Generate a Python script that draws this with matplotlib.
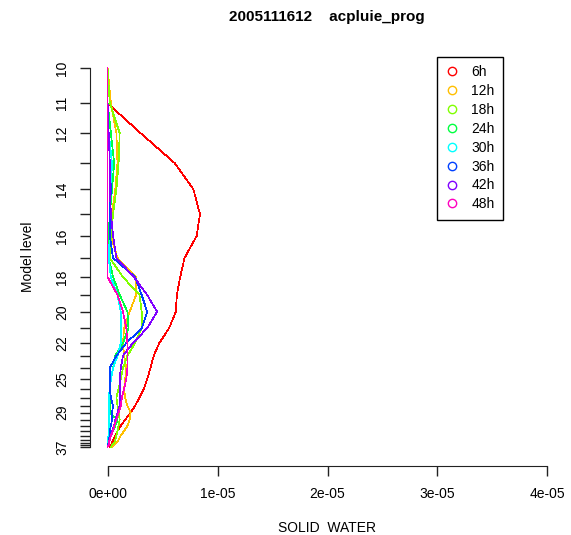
import numpy as np
import matplotlib
matplotlib.use('Agg')
import matplotlib.pyplot as plt
from matplotlib.lines import Line2D

plt.rcParams['font.family'] = ['Liberation Sans', 'DejaVu Sans']
plt.rcParams['font.size'] = 10

# model levels and their (approx.) pressure in hPa, used as the vertical scale
levels = list(range(10, 38))
level_p = [190, 265, 329, 393, 449, 502, 549, 596, 637, 675, 711, 746, 778, 805,
           831, 855, 876, 895, 912, 927, 942, 955, 966, 976, 985, 991, 997, 1000]
labelled = [10, 11, 12, 14, 16, 18, 20, 22, 25, 29, 37]

scale = 1e-6
series = ['6h', '12h', '18h', '24h', '30h', '36h', '42h', '48h']
colors = ['#FF0000', '#FFBF00', '#80FF00', '#00FF40', '#00FFFF', '#0040FF', '#8000FF', '#FF00BF']

w6 = [0, 0, 3.0, 6.1, 7.8, 8.4, 8.1, 7.0, 6.6, 6.3, 6.2, 5.6, 4.7, 4.2,
      3.9, 3.6, 3.3, 2.9, 2.5, 2.1, 1.6, 1.2, 0.9, 0.7, 0.5, 0.4, 0.3, 0.2]
w12 = [0, 0.3, 0.8, 0.9, 0.7, 0.4, 0.3, 0.9, 2.6, 2.6, 2.0, 1.5, 1.4, 1.5,
       1.7, 1.6, 1.5, 1.6, 1.8, 2.1, 2.0, 1.8, 1.5, 1.2, 1.0, 0.8, 0.6, 0.4]
w18 = [0, 0.2, 1.1, 1.0, 0.8, 0.5, 0.3, 0.2, 1.4, 2.9, 3.1, 3.1, 2.5, 1.8,
       1.4, 1.2, 1.0, 0.8, 0.9, 1.0, 1.1, 1.0, 0.9, 0.8, 0.7, 0.6, 0.4, 0.3]
w24 = [0, 0, 0.3, 0.6, 0.4, 0.2, 0.1, 0.1, 0.5, 1.1, 1.8, 1.9, 1.4, 0.7,
       0.5, 0.3, 0.2, 0.2, 0.2, 0.2, 0.9, 0.7, 0.5, 0.3, 0.2, 0.1, 0.1, 0]
w30 = [0, 0, 0.1, 0.4, 0.3, 0.2, 0.2, 0.1, 0.3, 0.9, 1.2, 1.2, 1.2, 0.9,
       0.5, 0.3, 0.2, 0.1, 0.1, 0.1, 0.1, 0.1, 0.1, 0.1, 0, 0, 0, 0]
w36 = [0, 0, 0.1, 0.2, 0.3, 0.2, 0.2, 0.5, 2.5, 3.1, 3.6, 3.1, 1.7, 0.8,
       0.2, 0.2, 0.2, 0.3, 0.5, 0.4, 0.4, 0.3, 0.2, 0.2, 0.1, 0.1, 0, 0]
w42 = [0, 0, 0.1, 0.2, 0.2, 0.3, 0.5, 0.8, 2.4, 3.6, 4.5, 3.6, 2.3, 1.4,
       1.2, 1.1, 1.1, 1.1, 1.1, 0.9, 0.7, 0.6, 0.4, 0.3, 0.2, 0.1, 0.1, 0]
w48 = [0, 0, 0, 0, 0, 0, 0, 0, 0, 0.9, 1.4, 1.7, 1.8, 1.8,
       1.8, 1.7, 1.5, 1.3, 1.2, 1.0, 0.8, 0.6, 0.5, 0.3, 0.2, 0.1, 0.1, 0]
values = [w6, w12, w18, w24, w30, w36, w42, w48]

xticks = [0, 1e-5, 2e-5, 3e-5, 4e-5]
xticklabels = ['0e+00', '1e-05', '2e-05', '3e-05', '4e-05']

fig = plt.figure(figsize=(5.71, 5.35), dpi=100)
ax = fig.add_axes([90 / 571, 1 - 462 / 535, 475 / 571, 409 / 535])

for vals, c in zip(values, colors):
    ax.plot(np.array(vals) * scale, level_p, color=c, lw=0.5, antialiased=False)

xr = xticks[-1] - xticks[0]
ax.set_xlim(xticks[0] - 0.04 * xr, xticks[-1] + 0.04 * xr)
pr = level_p[-1] - level_p[0]
ax.set_ylim(level_p[-1] + 0.04 * pr, level_p[0] - 0.04 * pr)

for s in ['top', 'right']:
    ax.spines[s].set_visible(False)
ax.spines['bottom'].set_bounds(xticks[0], xticks[-1])
ax.spines['left'].set_bounds(level_p[0], level_p[-1])
ax.spines['bottom'].set_position(('outward', 3))
for s in ['bottom', 'left']:
    ax.spines[s].set_color('#222222')

ax.set_xticks(xticks)
ax.set_xticklabels(xticklabels)
ax.set_yticks(level_p)
ax.set_yticklabels([str(l) if l in labelled else '' for l in levels],
                   rotation=90, va='center')
ax.tick_params(axis='both', direction='out', length=7, width=1, color='#222222',
               labelsize=10)
ax.tick_params(axis='x', pad=8)
ax.tick_params(axis='y', pad=8)

fig.text(327 / 571, 1 - 528 / 535, 'SOLID  WATER', ha='center', va='center', fontsize=10)
fig.text(28 / 571, 1 - 257 / 535, 'Model level', ha='center', va='center',
         rotation=90, fontsize=10)
fig.text(327 / 571, 1 - 17 / 535, '2005111612    acpluie_prog',
         ha='center', va='center', fontsize=11, fontweight='bold')

handles = [Line2D([0], [0], marker='o', color=c, mfc='none', lw=0, markersize=6)
           for c in colors]
leg = ax.legend(handles, series, loc='upper right',
                bbox_to_anchor=(503 / 571, 1 - 57 / 535), bbox_transform=fig.transFigure,
                borderaxespad=0, fancybox=False, framealpha=1, edgecolor='black',
                handlelength=1.0, handletextpad=0.9, labelspacing=0.35, borderpad=0.6)
leg.get_frame().set_linewidth(1)

fig.savefig('out.png', dpi=100, facecolor='w')
